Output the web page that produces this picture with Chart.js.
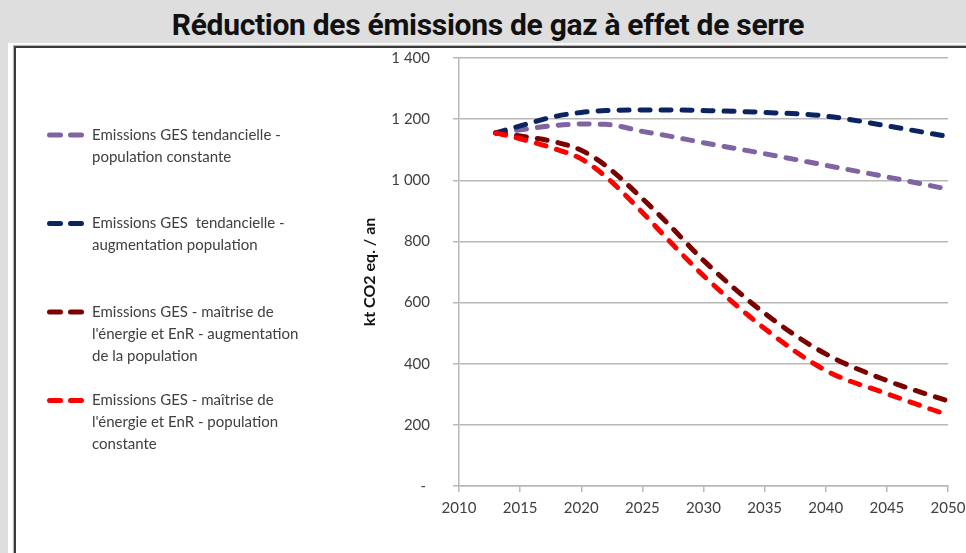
<!DOCTYPE html>
<html lang="fr">
<head>
<meta charset="utf-8">
<title>Réduction des émissions de gaz à effet de serre</title>
<script src="https://cdn.jsdelivr.net/npm/chart.js@4.4.1/dist/chart.umd.min.js"></script>
<style>
  html, body { margin: 0; padding: 0; background: #dedede; }
  body { width: 966px; height: 553px; position: relative; overflow: hidden; }
  h1 {
    position: absolute; left: 5px; top: 6px; width: 966px; margin: 0;
    text-align: center; font: 700 30px/38px Roboto, sans-serif; color: #111;
    letter-spacing: -0.3px;
  }
  #panel { position: absolute; left: 8px; top: 43px; right: 0; bottom: -20px; background: #fff; }
  #frame {
    position: absolute; left: 14px; top: 46px; right: -20px; bottom: -20px;
    border: 2px solid #3a3a3a; box-shadow: 0 0 1px 1px #b8b8b8;
  }
  canvas { position: absolute; left: 0; top: 0; }
</style>
</head>
<body>
<h1>Réduction des émissions de gaz à effet de serre</h1>
<div id="panel"></div>
<div id="frame"></div>
<canvas id="chart" width="966" height="553"></canvas>
<script>
// Emissions in kt CO2 eq. per year, by scenario
const years = [2013, 2015, 2018, 2020, 2022, 2025, 2027, 2030, 2035, 2040, 2045, 2050];
const tendPopConstante   = [1155, 1165, 1180, 1184, 1183, 1160, 1146, 1123, 1087, 1049, 1011, 971];
const tendPopAugment     = [1155, 1178, 1210, 1222, 1228, 1230, 1230, 1228, 1222, 1210, 1178, 1143];
const maitrisePopAugment = [1155, 1145, 1124, 1098, 1048, 940, 862, 738, 565, 432, 345, 278];
const maitrisePopConst   = [1155, 1136, 1101, 1070, 1012, 895, 810, 688, 515, 378, 302, 232];

const seriesNames = [
  ['Emissions GES tendancielle -', 'population constante'],
  ['Emissions GES  tendancielle -', 'augmentation population'],
  ['Emissions GES - maîtrise de', "l'énergie et EnR - augmentation", 'de la population'],
  ['Emissions GES - maîtrise de', "l'énergie et EnR - population", 'constante']
];
const seriesColors = ['#8064a2', '#0b2461', '#7b0000', '#ff0000'];
const seriesValues = [tendPopConstante, tendPopAugment, maitrisePopAugment, maitrisePopConst];

const xTickLabels = ['2010', '2015', '2020', '2025', '2030', '2035', '2040', '2045', '2050'];
const yTickLabels = ['- ', '200', '400', '600', '800', '1 000', '1 200', '1 400'];

const FONT = 'Lato, "Open Sans", sans-serif';
const TEXT = '#404040';
const GRID = '#b8b8b8';

// Legend drawn to the left of the plot, one block of wrapped lines per series
const sideLegend = {
  id: 'sideLegend',
  afterDraw(chart) {
    const ctx = chart.ctx;
    ctx.save();
    chart.data.datasets.forEach((ds, i) => {
      const y0 = 135 + i * 88.5;
      ctx.strokeStyle = ds.borderColor;
      ctx.lineWidth = 5;
      ctx.lineCap = 'round';
      ctx.setLineDash([11, 10]);
      ctx.beginPath();
      ctx.moveTo(49.5, y0);
      ctx.lineTo(81.5, y0);
      ctx.stroke();
      ctx.setLineDash([]);
      ctx.fillStyle = TEXT;
      ctx.font = '15px ' + FONT;
      ctx.textBaseline = 'middle';
      ctx.textAlign = 'left';
      ds.legendLines.forEach((line, k) => ctx.fillText(line, 92, y0 + k * 22));
    });
    ctx.restore();
  }
};

const datasets = seriesValues.map((vals, i) => ({
  label: seriesNames[i].join(' '),
  legendLines: seriesNames[i],
  data: years.map((y, j) => ({ x: y, y: vals[j] })),
  borderColor: seriesColors[i],
  borderWidth: 5,
  borderDash: [10, 11],
  borderCapStyle: 'round',
  pointRadius: 0,
  fill: false,
  cubicInterpolationMode: 'monotone',
  order: 3 - i
}));

new Chart(document.getElementById('chart'), {
  type: 'line',
  data: { datasets },
  options: {
    responsive: false,
    animation: false,
    events: [],
    layout: { padding: { left: 358, top: 58, right: 18, bottom: 0 } },
    plugins: { legend: { display: false }, tooltip: { enabled: false } },
    scales: {
      x: {
        type: 'linear', min: 2010, max: 2050,
        afterFit: s => { s.height = 67; s.paddingLeft = 0; s.paddingRight = 0; },
        afterBuildTicks: s => { s.ticks = xTickLabels.map(t => ({ value: Number(t) })); },
        ticks: {
          padding: 7, color: TEXT, font: { family: FONT, size: 15 },
          maxRotation: 0, autoSkip: false,
          callback: (v, i) => xTickLabels[i]
        },
        grid: { drawOnChartArea: false, drawTicks: true, tickLength: 6, color: GRID, lineWidth: 1.5 },
        border: { color: GRID, width: 1.5 }
      },
      y: {
        min: 0, max: 1400,
        afterFit: s => { s.width = 101; },
        afterBuildTicks: s => { s.ticks = yTickLabels.map((t, i) => ({ value: i * 200 })); },
        ticks: {
          padding: 23, color: TEXT, font: { family: FONT, size: 15 },
          callback: (v, i) => yTickLabels[i]
        },
        grid: { drawOnChartArea: true, drawTicks: true, tickLength: 6, color: GRID, lineWidth: 1.5 },
        border: { color: GRID, width: 1.5 },
        title: {
          display: true, text: 'kt CO2 eq. / an', color: '#111',
          font: { family: FONT, size: 16, weight: 'bold' }, padding: { top: 2, bottom: 0 }
        }
      }
    }
  },
  plugins: [sideLegend]
});
</script>
</body>
</html>
